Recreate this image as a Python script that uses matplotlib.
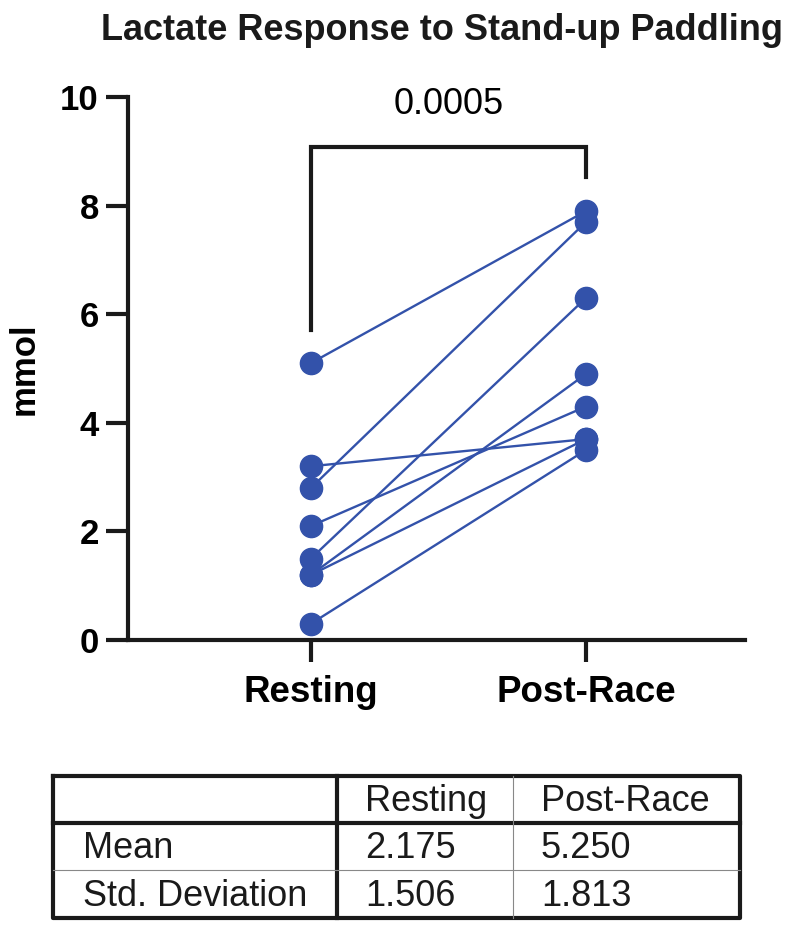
import matplotlib.pyplot as plt

plt.rcParams['font.family'] = ['Liberation Sans', 'DejaVu Sans']

# data
groups = ['Resting', 'Post-Race']
resting = [5.1, 3.2, 2.8, 2.1, 1.5, 1.2, 1.2, 0.3]
post_race = [7.9, 3.7, 7.7, 4.3, 6.3, 4.9, 3.7, 3.5]
p_value = '0.0005'
stat_rows = ['Mean', 'Std. Deviation']
stat_resting = ['2.175', '1.506']
stat_post = ['5.250', '1.813']

BLUE = '#3352AA'
W, H = 800, 926

fig = plt.figure(figsize=(W / 100, H / 100), dpi=100)
ax = fig.add_axes([128 / W, 1 - 640 / H, (745 - 128) / W, (640 - 97) / H])

for r, p in zip(resting, post_race):
    ax.plot([0, 1], [r, p], color=BLUE, lw=1.7, marker='o', ms=16, mec=BLUE, mfc=BLUE, zorder=3)

ax.set_xlim(-0.665, 1.578)
ax.set_ylim(0, 10)
ax.set_xticks([0, 1])
ax.set_xticklabels(groups, fontsize=26.5, fontweight='bold')
ax.set_yticks(range(0, 11, 2))
ax.set_yticklabels([str(v) for v in range(0, 11, 2)], fontsize=25, fontweight='bold')
ax.tick_params(width=3, length=16, direction='out', pad=5, color='#1a1a1a')
ax.tick_params(axis='x', pad=9)
for s in ['top', 'right']:
    ax.spines[s].set_visible(False)
for s in ['left', 'bottom']:
    ax.spines[s].set_linewidth(3)
    ax.spines[s].set_color('#1a1a1a')
ax.set_ylabel('mmol', fontsize=25, fontweight='bold', labelpad=14)

# significance bracket
ax.plot([0, 0, 1, 1], [5.71, 9.08, 9.08, 8.52], color='#1a1a1a', lw=3, clip_on=False,
        solid_joinstyle='miter')
ax.text(0.5, 9.87, p_value, ha='center', va='center', fontsize=26)

fig.text(442 / W, 1 - 31 / H, 'Lactate Response to Stand-up Paddling',
         ha='center', va='center', fontsize=26, fontweight='bold', color='#1a1a1a')

# summary table drawn in pixel coords
tx = fig.add_axes([0, 0, 1, 1])
tx.set_xlim(0, W)
tx.set_ylim(H, 0)
tx.axis('off')
left, right, top, bottom = 53, 740, 776, 918
col1, col2 = 337, 513
row1, row2 = 823, 870
tx.plot([left, right, right, left, left], [top, top, bottom, bottom, top], color='#1a1a1a', lw=3)
tx.plot([left, right], [row1, row1], color='#1a1a1a', lw=3)
tx.plot([col1, col1], [top, bottom], color='#1a1a1a', lw=3)
tx.plot([left, right], [row2, row2], color='#888888', lw=0.8)
tx.plot([col2, col2], [top, bottom], color='#888888', lw=0.8)

fs = 26
tx.text(col1 + 28, (top + row1) / 2 + 2, groups[0], fontsize=fs, va='center', color='#1a1a1a')
tx.text(col2 + 28, (top + row1) / 2 + 2, groups[1], fontsize=fs, va='center', color='#1a1a1a')
for i, (name, a, b) in enumerate(zip(stat_rows, stat_resting, stat_post)):
    yc = [(row1 + row2) / 2, (row2 + bottom) / 2][i] + 2
    tx.text(left + 30, yc, name, fontsize=fs, va='center', color='#1a1a1a')
    tx.text(col1 + 28, yc, a, fontsize=fs, va='center', color='#1a1a1a')
    tx.text(col2 + 28, yc, b, fontsize=fs, va='center', color='#1a1a1a')

fig.savefig('out.png', dpi=100)
